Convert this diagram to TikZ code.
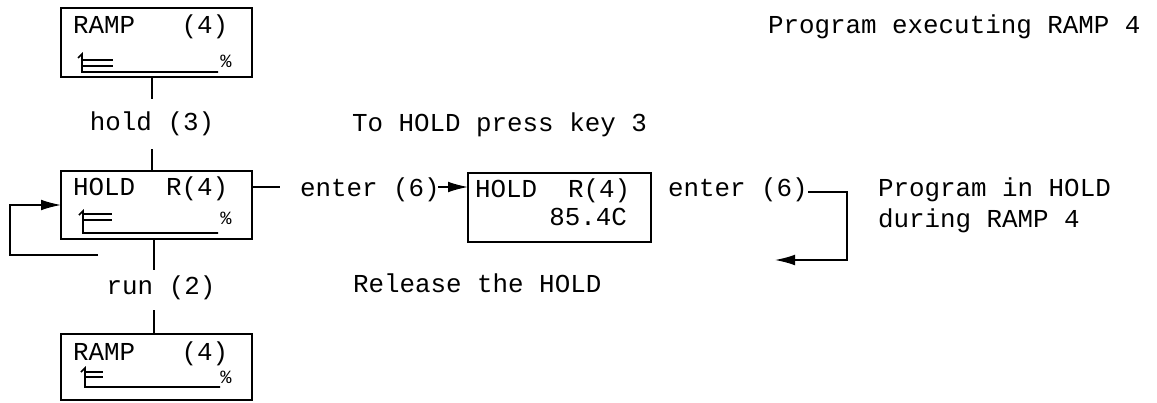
\documentclass[tikz,border=0pt]{standalone}
\usepackage{fontspec}
\setmonofont{Liberation Mono}
\usetikzlibrary{fit,arrows.meta}
\begin{document}
\begin{tikzpicture}[x=0.75pt,y=-0.75pt,
  every node/.style={inner sep=0pt,outer sep=0pt},
  txt/.style={font=\fontsize{19.4}{23}\selectfont\ttfamily},
  pct/.style={font=\fontsize{14}{14}\selectfont\ttfamily},
  dispbox/.style={draw,line width=1pt,inner sep=0pt},
  wire/.style={line width=1pt},
  bar/.style={line width=1.2pt},
  arr/.style={line width=1pt,-{Latex[length=15pt,width=8pt]}}]
\useasboundingbox (0,0) rectangle (1157,403);

% display boxes
\node[dispbox,fit={(61,8) (252,77)}] (top) {};
\node[dispbox,fit={(61,171) (252,239)}] (mid) {};
\node[dispbox,fit={(61,334) (252,400)}] (bot) {};
\node[dispbox,fit={(468,173) (651,242)}] (rbox) {};

% box contents
\node[txt,anchor=base west] (topT) at (73,34) {RAMP\ \ \ (4)};
\node[txt,anchor=base west] (midT) at (73,195) {HOLD\ \ R(4)};
\node[txt,anchor=base west] (botT) at (73,360) {RAMP\ \ \ (4)};
\node[txt,anchor=base west] (rT) at (475,197) {HOLD\ \ R(4)};
\node[txt,anchor=base east] (rV) at (627,225) {85.4C};
\node[pct] (topP) at (226,61) {\%};
\node[pct] (midP) at (226,218) {\%};
\node[pct] (botP) at (226,377) {\%};

% bar graphs
\draw[bar] (78,58) -- (82,54) -- (82,72) -- (218,72);
\draw[bar] (82,60) -- (113,60) (82,66) -- (113,66);
\draw[bar] (79,215) -- (83,211) -- (83,233) -- (218,233);
\draw[bar] (83,214) -- (112,214) (83,220) -- (112,220);
\draw[bar] (81,372) -- (85,368) -- (85,387) -- (220,387);
\draw[bar] (85,372) -- (103,372) (85,377) -- (103,377);

% key labels
\node[txt,inner ysep=10pt] (hold) at (152,124) {hold (3)};
\node[txt,inner ysep=12pt] (run) at (161,288) {run (2)};
\node[txt,anchor=base west] (e1) at (300,196) {enter (6)};
\node[txt,anchor=base west] (e2) at (668,196) {enter (6)};

% comments
\node[txt,anchor=base west] (c1) at (768,34) {Program executing RAMP 4};
\node[txt,anchor=base west] (c2) at (352,132) {To HOLD press key 3};
\node[txt,anchor=base west] (c3) at (353,292) {Release the HOLD};
\node[txt,anchor=base west] (c4) at (878,196) {Program in HOLD};
\node[txt,anchor=base west] (c5) at (878,227) {during RAMP 4};

% connectors
\draw[wire] (top.south -| hold) -- (hold.north);
\draw[wire] (hold.south) -- (mid.north -| hold);
\draw[wire] (mid.south -| 154,0) -- (154,270);
\draw[wire] (154,310) -- (bot.north -| 154,0);

\coordinate (loopA) at (98,255);
\coordinate (loopB) at (10,255);
\draw[arr] (loopA) -- (loopB) |- (mid.west);

\coordinate (m1) at (280,187);
\draw[wire] (mid.east |- m1) -- (m1);
\draw[arr] ([xshift=-1pt]e1.east |- m1) -- (rbox.west |- m1);

\coordinate (r1) at (808,192);
\coordinate (r2) at (847,192);
\coordinate (rback) at (775,260);
\draw[arr] (r1) -- (r2) |- (rback);
\end{tikzpicture}
\end{document}
